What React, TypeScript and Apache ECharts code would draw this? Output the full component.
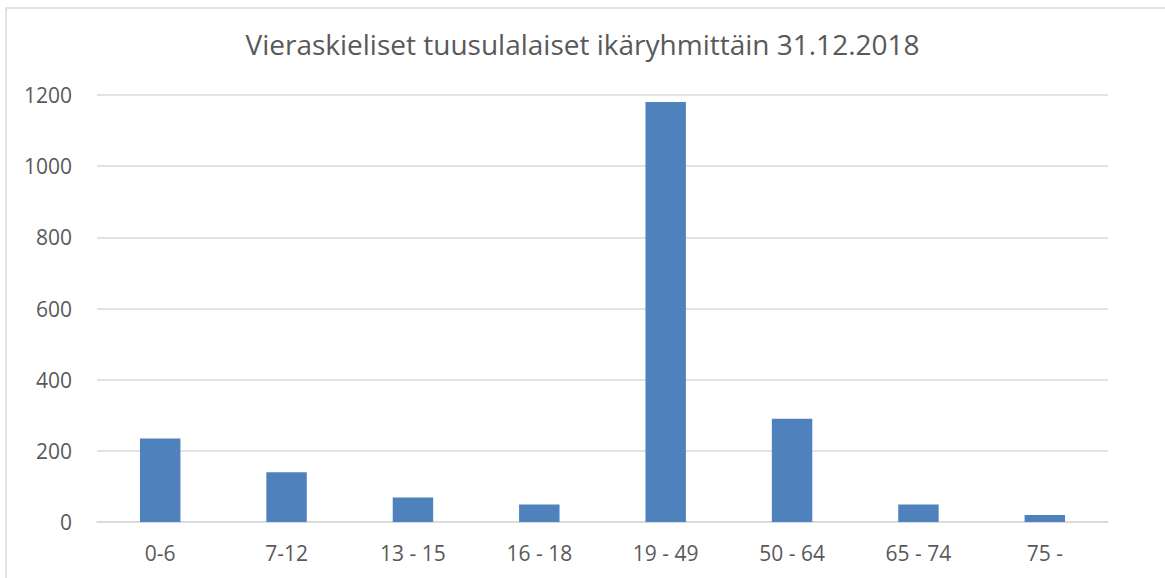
import React, { useEffect, useRef } from "react";
import * as echarts from "echarts";

const titleText = "Vieraskieliset tuusulalaiset ikäryhmittäin 31.12.2018";
const categories = ["0-6", "7-12", "13 - 15", "16 - 18", "19 - 49", "50 - 64", "65 - 74", "75 -"];
const values = [235, 140, 69, 49, 1180, 290, 49, 20];
const yTicks = { min: 0, max: 1200, interval: 200 };

export default function App() {
  const ref = useRef<HTMLDivElement>(null);
  useEffect(() => {
    if (!ref.current) return;
    const chart = echarts.init(ref.current, null, { renderer: "svg" });
    const font = "'Open Sans', sans-serif";
    chart.setOption({
      animation: false,
      backgroundColor: "#ffffff",
      title: {
        text: titleText,
        left: "center",
        top: 25,
        textStyle: { fontFamily: font, fontSize: 28, fontWeight: "normal", color: "#595959" },
      },
      graphic: [
        {
          type: "rect",
          shape: { x: 6, y: 8, width: 1200, height: 620 },
          style: { fill: "none", stroke: "#d9d9d9", lineWidth: 1.5 },
          silent: true,
        },
      ],
      grid: { left: 97, right: 57, top: 95, bottom: 56 },
      xAxis: {
        type: "category",
        data: categories,
        axisLine: { show: true, lineStyle: { color: "#d9d9d9", width: 1.5 } },
        axisTick: { show: false },
        axisLabel: { color: "#595959", fontFamily: font, fontSize: 21, margin: 20 },
      },
      yAxis: {
        type: "value",
        min: yTicks.min,
        max: yTicks.max,
        interval: yTicks.interval,
        axisLine: { show: false },
        axisTick: { show: false },
        splitLine: { lineStyle: { color: "#d9d9d9", width: 1.5 } },
        axisLabel: {
          color: "#595959",
          fontFamily: font,
          fontSize: 21,
          margin: 25,
          formatter: (v: number) => String(v),
        },
      },
      series: [
        {
          type: "bar",
          data: values,
          barWidth: "32%",
          itemStyle: { color: "#4f81bd" },
        },
      ],
    });
    return () => chart.dispose();
  }, []);
  return (
    <div
      ref={ref}
      style={{ position: "fixed", left: 0, top: 0, width: 1165, height: 578 }}
    />
  );
}
